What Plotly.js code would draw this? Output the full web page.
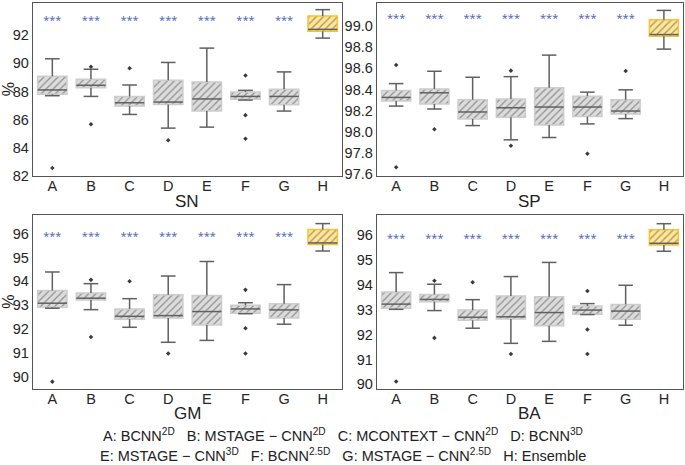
<!DOCTYPE html>
<html>
<head>
<meta charset="utf-8">
<script src="https://cdn.plot.ly/plotly-3.0.1.min.js"></script>
<style>body{margin:0;background:#fff}</style>
</head>
<body>
<div id="grafico" style="width:685px;height:465px"></div>
<script>
// categorias y datos
const cats = ["A", "B", "C", "D", "E", "F", "G", "H"];

// SN
const snHi  = [90.32, 89.58, 88.46, 90.06, 91.08, 88.08, 89.39, 93.81];
const snQ3  = [89.08, 88.87, 87.65, 88.80, 88.68, 87.96, 88.15, 93.36];
const snMed = [88.11, 88.44, 87.20, 87.25, 87.47, 87.65, 87.65, 92.41];
const snQ1  = [87.80, 88.27, 86.97, 87.08, 86.61, 87.44, 87.06, 92.27];
const snLo  = [87.70, 87.65, 86.37, 85.40, 85.47, 87.39, 86.61, 91.79];
const snOutCat = ["A", "B", "B", "C", "D", "F", "F", "F"];
const snOutVal = [82.57, 89.75, 85.68, 89.65, 84.54, 89.13, 86.32, 84.64];

// SP
const spHi  = [98.456, 98.573, 98.516, 98.522, 98.726, 98.375, 98.397, 99.150];
const spQ3  = [98.390, 98.406, 98.303, 98.309, 98.416, 98.337, 98.303, 99.062];
const spMed = [98.325, 98.369, 98.187, 98.227, 98.234, 98.234, 98.196, 98.921];
const spQ1  = [98.290, 98.262, 98.121, 98.136, 98.064, 98.143, 98.168, 98.905];
const spLo  = [98.243, 98.215, 98.058, 97.923, 97.945, 98.074, 98.124, 98.783];
const spOutCat = ["A", "A", "B", "D", "D", "F", "G"];
const spOutVal = [98.632, 97.663, 98.024, 98.579, 97.867, 97.791, 98.576];

// GM
const gmHi  = [94.39, 93.90, 93.27, 94.22, 94.83, 93.10, 93.86, 96.42];
const gmQ3  = [93.61, 93.51, 92.84, 93.43, 93.40, 92.99, 93.06, 96.17];
const gmMed = [93.08, 93.29, 92.53, 92.56, 92.73, 92.84, 92.80, 95.61];
const gmQ1  = [92.91, 93.22, 92.41, 92.46, 92.17, 92.66, 92.46, 95.54];
const gmLo  = [92.87, 92.81, 92.07, 91.44, 91.52, 92.64, 92.20, 95.27];
const gmOutCat = ["A", "B", "B", "C", "D", "F", "F", "F"];
const gmOutVal = [89.79, 94.06, 91.66, 94.00, 90.97, 93.64, 92.03, 90.97];

// BA
const baHi  = [94.50, 94.03, 93.41, 94.34, 94.91, 93.25, 93.99, 96.47];
const baQ3  = [93.72, 93.62, 92.99, 93.56, 93.53, 93.15, 93.22, 96.23];
const baMed = [93.23, 93.42, 92.70, 92.72, 92.89, 92.99, 92.95, 95.68];
const baQ1  = [93.06, 93.33, 92.58, 92.63, 92.36, 92.82, 92.62, 95.61];
const baLo  = [93.02, 92.97, 92.26, 91.65, 91.73, 92.81, 92.38, 95.36];
const baOutCat = ["A", "B", "B", "C", "D", "F", "F", "F"];
const baOutVal = [90.11, 94.17, 91.87, 94.11, 91.22, 93.76, 92.21, 91.22];

const estrellas = "***";

const gris = "#606060";
const anchoCaja = 0.76;
const anchoTope = 0.19;

function panel(hi, q3, med, q1, lo, outCat, outVal, ejeX, ejeY, yEstrella){
    const idx = cats.map((c, i) => i);
    const esH = cats.map(c => c === "H");
    const trazas = [];
    // cajas rayadas
    trazas.push({
        type: "bar", x: idx, base: q1, y: q3.map((v, i) => v - q1[i]),
        width: anchoCaja, xaxis: ejeX, yaxis: ejeY, hoverinfo: "skip",
        marker: {
            color: esH.map(h => h ? "#ffe594" : "#dcdcdc"),
            line: {color: esH.map(h => h ? "#f6c23a" : "#cdcdcd"), width: 1.5},
            pattern: {
                shape: "/", fillmode: "overlay",
                fgcolor: esH.map(h => h ? "#f6c640" : "#bcbcbc"),
                size: 5, solidity: 0.25
            }
        }
    });
    // bigotes
    const wx = [], wy = [];
    idx.forEach(i => {
        wx.push(i, i, null, i, i, null, i - anchoTope, i + anchoTope, null, i - anchoTope, i + anchoTope, null);
        wy.push(q3[i], hi[i], null, q1[i], lo[i], null, hi[i], hi[i], null, lo[i], lo[i], null);
    });
    trazas.push({type: "scatter", mode: "lines", x: wx, y: wy, xaxis: ejeX, yaxis: ejeY,
        line: {color: gris, width: 1.5}, hoverinfo: "skip"});
    // medianas
    const mx = [], my = [];
    idx.forEach(i => {
        mx.push(i - anchoCaja / 2, i + anchoCaja / 2, null);
        my.push(med[i], med[i], null);
    });
    trazas.push({type: "scatter", mode: "lines", x: mx, y: my, xaxis: ejeX, yaxis: ejeY,
        line: {color: gris, width: 1.5}, hoverinfo: "skip"});
    // atipicos
    trazas.push({type: "scatter", mode: "markers", x: outCat.map(c => cats.indexOf(c)), y: outVal,
        xaxis: ejeX, yaxis: ejeY, marker: {symbol: "diamond", size: 3.5, color: "#3a3a3a"}});
    // significancia
    const sx = cats.slice(0, 7).map((c, i) => i);
    trazas.push({type: "scatter", mode: "text", x: sx, y: sx.map(() => yEstrella),
        text: sx.map(() => estrellas), textfont: {color: "#4a5cb8", size: 11},
        xaxis: ejeX, yaxis: ejeY, hoverinfo: "skip"});
    return trazas;
}

const datos = [].concat(
    panel(snHi, snQ3, snMed, snQ1, snLo, snOutCat, snOutVal, "x", "y", 92.95),
    panel(spHi, spQ3, spMed, spQ1, spLo, spOutCat, spOutVal, "x2", "y2", 99.07),
    panel(gmHi, gmQ3, gmMed, gmQ1, gmLo, gmOutCat, gmOutVal, "x3", "y3", 95.83),
    panel(baHi, baQ3, baMed, baQ1, baLo, baOutCat, baOutVal, "x4", "y4", 95.83)
);

const fuente = {family: "Liberation Sans, Arial, sans-serif", size: 14.5, color: "#262626"};

function ejeX(dominio, ancla){
    return {domain: dominio, anchor: ancla, range: [-0.5, 7.5], tickvals: cats.map((c, i) => i),
        ticktext: cats, showgrid: false, zeroline: false, showline: true, mirror: true,
        linecolor: "#555", linewidth: 1.3, ticks: "", tickfont: fuente, fixedrange: true,
        ticklabelstandoff: -4};
}
function ejeY(dominio, ancla, rango, vals, formato){
    return {domain: dominio, anchor: ancla, range: rango, tickvals: vals, tickformat: formato,
        showgrid: false, zeroline: false, showline: true, mirror: true,
        linecolor: "#555", linewidth: 1.3, ticks: "", tickfont: fuente, fixedrange: true};
}

const arriba = [0.6215, 0.9935];
const abajo = [0.1634, 0.5376];
const izq = [0.0482, 0.4993];
const der = [0.5504, 0.9971];

const tituloFuente = {family: "Liberation Sans, Arial, sans-serif", size: 17, color: "#222"};
const leyendaFuente = {family: "Liberation Sans, Arial, sans-serif", size: 14.5, color: "#222"};

function nota(texto, x, y, extra){
    return Object.assign({text: texto, x: x, y: y, xref: "paper", yref: "paper", showarrow: false,
        xanchor: "center", yanchor: "middle", font: tituloFuente}, extra || {});
}

const layout = {
    width: 685, height: 465,
    margin: {l: 0, r: 0, t: 0, b: 0},
    paper_bgcolor: "#fff", plot_bgcolor: "#fff",
    showlegend: false, barmode: "overlay",
    xaxis: ejeX(izq, "y"),
    yaxis: ejeY(arriba, "x", [82, 94.28], [82, 84, 86, 88, 90, 92, 94], "d"),
    xaxis2: ejeX(der, "y2"),
    yaxis2: ejeY(arriba, "x2", [97.58, 99.22], [97.6, 97.8, 98.0, 98.2, 98.4, 98.6, 98.8, 99.0, 99.2], ".1f"),
    xaxis3: ejeX(izq, "y3"),
    yaxis3: ejeY(abajo, "x3", [89.48, 96.78], [90, 91, 92, 93, 94, 95, 96], "d"),
    xaxis4: ejeX(der, "y4"),
    yaxis4: ejeY(abajo, "x4", [89.81, 96.82], [90, 91, 92, 93, 94, 95, 96], "d"),
    annotations: [
        nota("SN", 0.2737, 0.566),
        nota("SP", 0.7737, 0.566),
        nota("GM", 0.2737, 0.111),
        nota("BA", 0.7737, 0.111),
        nota("%", 0.0125, 0.807, {textangle: -90, font: Object.assign({}, tituloFuente, {size: 16})}),
        nota("%", 0.0125, 0.35, {textangle: -90, font: Object.assign({}, tituloFuente, {size: 16})}),
        nota("A: BCNN<sup>2D</sup>   B: MSTAGE − CNN<sup>2D</sup>   C: MCONTEXT − CNN<sup>2D</sup>   D: BCNN<sup>3D</sup>",
             0.5, 0.064, {font: leyendaFuente}),
        nota("E: MSTAGE − CNN<sup>3D</sup>   F: BCNN<sup>2.5D</sup>   G: MSTAGE − CNN<sup>2.5D</sup>   H: Ensemble",
             0.5, 0.022, {font: leyendaFuente})
    ]
};

Plotly.newPlot("grafico", datos, layout, {staticPlot: true});
</script>
</body>
</html>
